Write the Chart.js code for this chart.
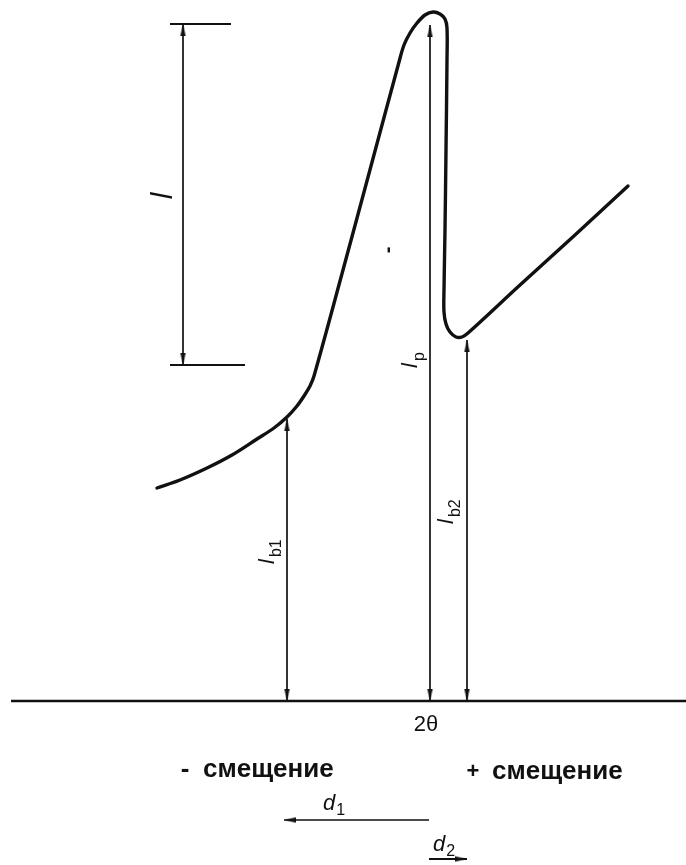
<!DOCTYPE html>
<html>
<head>
<meta charset="utf-8">
<script src="https://cdn.jsdelivr.net/npm/chart.js@4.4.1/dist/chart.umd.min.js"></script>
<style>
  html, body { margin: 0; padding: 0; background: #fff; }
  #wrap { width: 686px; height: 865px; }
</style>
</head>
<body>
<div id="wrap"><canvas id="diagram" width="686" height="865"></canvas></div>
<script>
// profile of the reflection, x = 2theta position, y = intensity above background line
const curveX = [157, 180, 207, 232, 257, 274, 287, 297, 304, 310, 314, 343, 371, 399, 404, 410, 417, 425, 433, 440, 445, 447, 447, 446, 445, 444, 444, 446, 450, 456, 462, 468, 520, 575, 628]
const curveY = [213, 221, 233, 246, 262, 273, 284, 295, 305, 315, 325, 431, 535, 639, 656, 668, 678, 686, 689, 687, 682, 673, 641, 551, 471, 411, 389, 377, 369, 364, 364, 368, 416, 466, 515]

// measured intensities: Ib1, Ip, Ib2
const arrowNames = ['Ib1', 'Ip', 'Ib2']
const arrowX = [287, 430, 467]
const arrowTop = [282, 676, 361]

// dimension I
const dimX = 183
const dimTop = 677
const dimBottom = 336
const dimTickTop = [170, 231]
const dimTickBottom = [170, 245]

// base line and shifts d1, d2
const baseX = [11, 686]
const shiftStart = 429
const d1End = 284
const d2End = 467
const d1Level = -119
const d2Level = -158

const ink = '#111'

function makeHead() {
  const c = document.createElement('canvas')
  c.width = 9
  c.height = 26
  const g = c.getContext('2d')
  g.fillStyle = ink
  g.beginPath()
  g.moveTo(4.5, 13)
  g.lineTo(1.8, 25)
  g.lineTo(7.2, 25)
  g.closePath()
  g.fill()
  return c
}
const head = makeHead()

function segment(points, width, extra) {
  return Object.assign({
    data: points,
    showLine: true,
    borderColor: ink,
    borderWidth: width,
    pointRadius: 0,
    tension: 0,
    fill: false
  }, extra || {})
}

const datasets = []

// profile
datasets.push(segment(curveX.map((x, i) => ({x: x, y: curveY[i]})), 3.4, {tension: 0.35, borderCapStyle: 'round'}))

// base line
datasets.push(segment(baseX.map(x => ({x: x, y: 0})), 2.4))

// vertical arrows
arrowX.forEach((x, i) => {
  datasets.push(segment([{x: x, y: 0}, {x: x, y: arrowTop[i]}], 1.7, {
    pointStyle: head, pointRadius: 3, pointRotation: [180, 0]
  }))
})

// dimension I
datasets.push(segment([{x: dimX, y: dimBottom}, {x: dimX, y: dimTop}], 1.7, {
  pointStyle: head, pointRadius: 3, pointRotation: [180, 0]
}))
datasets.push(segment(dimTickTop.map(x => ({x: x, y: dimTop})), 1.8))
datasets.push(segment(dimTickBottom.map(x => ({x: x, y: dimBottom})), 1.8))

// shifts
datasets.push(segment([{x: shiftStart, y: d1Level}, {x: d1End, y: d1Level}], 1.7, {
  pointStyle: head, pointRadius: [0, 3], pointRotation: [0, 270]
}))
datasets.push(segment([{x: shiftStart, y: d2Level}, {x: d2End, y: d2Level}], 2, {
  pointStyle: head, pointRadius: [0, 3], pointRotation: [0, 90]
}))

// texts placed in chart coordinates
const texts = [
  {t: '2θ', x: 426, y: -24, font: '22px "Liberation Sans"', align: 'center'},
  {t: '-', x: 185, y: -69, font: 'bold 26px "Liberation Sans"', align: 'center'},
  {t: 'смещение', x: 203, y: -69, font: 'bold 26px "Liberation Sans"', align: 'left'},
  {t: '+', x: 473, y: -71, font: 'bold 22px "Liberation Sans"', align: 'center'},
  {t: 'смещение', x: 492, y: -71, font: 'bold 26px "Liberation Sans"', align: 'left'}
]
const indexed = [
  {t: 'd', s: '1', x: 323, y: -109, rot: false},
  {t: 'd', s: '2', x: 433, y: -150, rot: false},
  {t: 'I', s: '', x: 172, y: 506, rot: true, center: true, size: 30},
  {t: 'I', s: 'p', x: 417, y: 333, rot: true},
  {t: 'I', s: 'b1', x: 274, y: 137, rot: true},
  {t: 'I', s: 'b2', x: 453, y: 177, rot: true},
  {t: '-', s: '', x: 394, y: 451, rot: true, center: true, size: 20, upright: true}
]

const textPlugin = {
  id: 'texts',
  afterDatasetsDraw(chart) {
    const ctx = chart.ctx
    const sx = chart.scales.x
    const sy = chart.scales.y
    ctx.save()
    ctx.fillStyle = ink
    ctx.textBaseline = 'middle'
    texts.forEach(item => {
      ctx.font = item.font
      ctx.textAlign = item.align
      ctx.fillText(item.t, sx.getPixelForValue(item.x), sy.getPixelForValue(item.y))
    })
    ctx.textBaseline = 'alphabetic'
    ctx.textAlign = 'left'
    indexed.forEach(item => {
      const px = sx.getPixelForValue(item.x)
      const py = sy.getPixelForValue(item.y)
      const size = item.size || 22
      const mainFont = (item.upright ? 'bold ' : 'italic ') + size + 'px "Liberation Sans"'
      ctx.save()
      ctx.translate(px, py)
      if (item.rot) ctx.rotate(-Math.PI / 2)
      ctx.font = mainFont
      let w = ctx.measureText(item.t).width
      let x0 = item.center ? -w / 2 : 0
      if (item.t === 'I') {
        // the drawing uses a lower case italic l for intensity
        ctx.fillText('l', x0, 0)
        w = ctx.measureText('l').width
      } else {
        ctx.fillText(item.t, x0, 0)
      }
      if (item.s) {
        ctx.font = '16px "Liberation Sans"'
        ctx.fillText(item.s, x0 + w + (item.rot ? 2 : 1), item.rot ? 7 : 5)
      }
      ctx.restore()
    })
    ctx.restore()
  }
}

new Chart(document.getElementById('diagram'), {
  type: 'scatter',
  data: {datasets: datasets},
  options: {
    responsive: false,
    animation: false,
    layout: {padding: 0, autoPadding: false},
    plugins: {legend: {display: false}, tooltip: {enabled: false}},
    scales: {
      x: {type: 'linear', min: 0, max: 686, display: false},
      y: {type: 'linear', min: -164, max: 701, display: false}
    }
  },
  plugins: [textPlugin]
})
</script>
</body>
</html>
